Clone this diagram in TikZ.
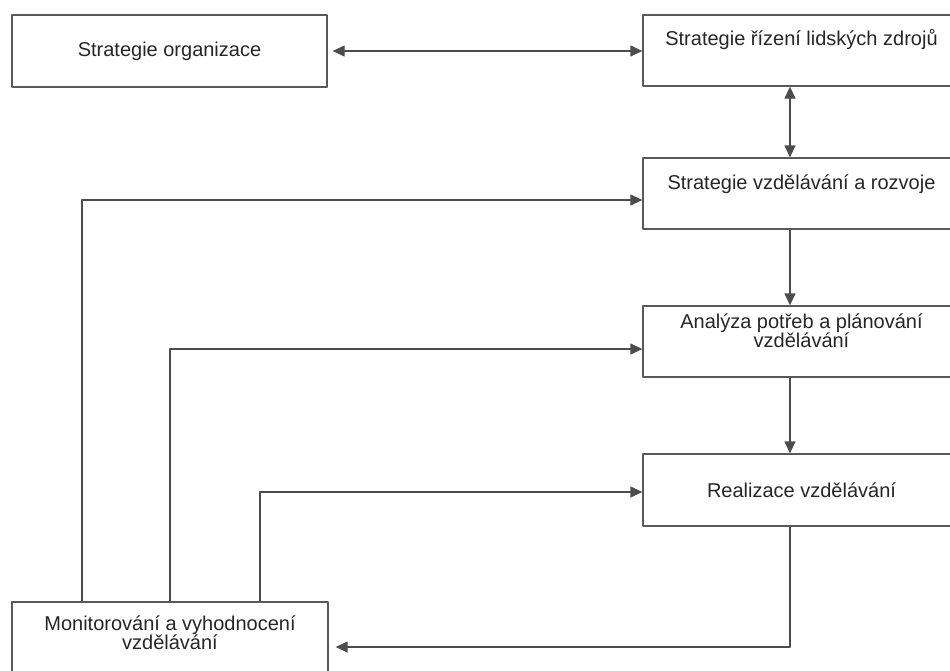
\documentclass[tikz,border=0pt]{standalone}
\usepackage{fontspec}
\setmainfont{Liberation Sans}
\usetikzlibrary{arrows.meta}
\begin{document}
\begin{tikzpicture}[x=1pt,y=-1pt,>={Triangle[length=12pt,width=11pt]},line join=round,
	font=\fontsize{20}{19}\selectfont,
	box/.style={draw=black!65,line width=1.3pt,text=black!85,inner sep=0pt,align=center},
	link/.style={draw=black!70,line width=1.3pt}]
		\def\xm{790}
		\useasboundingbox (0,0) rectangle (950,670);
		\clip (0,0) rectangle (950,670);
		% boxes
		\node [box,minimum width=315pt,minimum height=72pt] (org) at (169.5,51) {Strategie organizace};
		\node [box,minimum width=317pt,text height=30pt,text depth=41pt] (hr) at (801.5,50.5) {Strategie řízení lidských zdrojů};
		\node [box,minimum width=317pt,text height=31pt,text depth=40pt] (vzd) at (801.5,193.5) {Strategie vzdělávání a rozvoje};
		\node [box,minimum width=317pt,text height=41pt,text depth=30pt] (ana) at (801.5,341.5) {Analýza potřeb a plánování\\vzdělávání};
		\node [box,minimum width=317pt,minimum height=72pt] (real) at (801.5,490) {Realizace vzdělávání};
		\node [box,minimum width=316pt,text height=47pt,text depth=36pt] (mon) at (170,643.5) {Monitorování a vyhodnocení\\vzdělávání};
		% links
		\draw [link,<->,shorten <=5pt] (org.east) -- (org.east -| hr.west);
		\draw [link,<->] (hr.south -| \xm,0) -- (vzd.north -| \xm,0);
		\draw [link,->] (vzd.south -| \xm,0) -- (ana.north -| \xm,0);
		\draw [link,->] (ana.south -| \xm,0) -- (real.north -| \xm,0);
		\draw [link,->,shorten >=7pt] (real.south -| \xm,0) |- (mon.east |- 0,647);
		\draw [link,->] (mon.north -| 82,0) |- (vzd.west |- 0,200);
		\draw [link,->] (mon.north -| 170,0) |- (ana.west |- 0,349);
		\draw [link,->] (mon.north -| 260,0) |- (real.west |- 0,492);
	\end{tikzpicture}
\end{document}
